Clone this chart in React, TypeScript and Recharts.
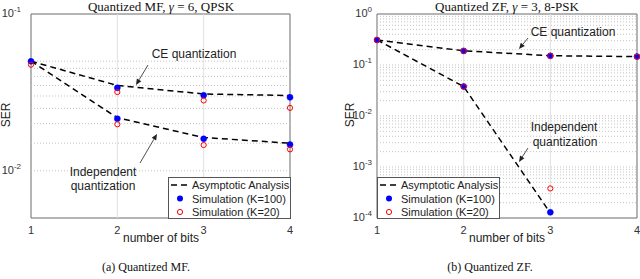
import { Line, LineChart, ReferenceArea, ReferenceLine, XAxis, YAxis } from "recharts";

const bits = [1, 2, 3, 4];

// left panel: quantized MF, gamma = 6, QPSK
const mfCeAnalysis = [0.05, 0.035, 0.0309, 0.0302];
const mfIndAnalysis = [0.05, 0.0218, 0.0163, 0.015];
const mfCeK100 = [0.0499, 0.0338, 0.0303, 0.0294];
const mfCeK20 = [0.0475, 0.0318, 0.0281, 0.0252];
const mfIndK100 = [null, 0.0215, 0.016, 0.0147];
const mfIndK20 = [null, 0.0198, 0.0146, 0.0137];

// right panel: quantized ZF, gamma = 3, 8-PSK
const zfCeAnalysis = [0.31, 0.19, 0.152, 0.146];
const zfIndAnalysis = [0.31, 0.0378, 0.000125, null];
const zfCeK100 = [0.31, 0.189, 0.151, 0.146];
const zfCeK20 = [0.31, 0.189, 0.151, 0.146];
const zfIndK100 = [null, 0.0378, 0.000129, null];
const zfIndK20 = [null, 0.0378, 0.00038, null];

const mfDecades = [0.01, 0.1];
const zfDecades = [0.0001, 0.001, 0.01, 0.1, 1];
const innerBits = [2, 3];

const minorGrid = (lo: number, hi: number) => {
  const out: number[] = [];
  for (let d = lo; d < hi * 0.99; d *= 10) {
    for (let m = 1; m < 10; m++) {
      const v = Number((d * m).toPrecision(3));
      if (v > lo && v < hi) out.push(v);
    }
  }
  return out;
};

type Row = { bits: number; [k: string]: number | null };

function buildRows(cols: Record<string, (number | null)[]>): Row[] {
  return bits.map((b, i) => {
    const row: Row = { bits: b };
    for (const k of Object.keys(cols)) row[k] = cols[k][i];
    return row;
  });
}

const mfRows = buildRows({
  ceA: mfCeAnalysis,
  indA: mfIndAnalysis,
  ce100: mfCeK100,
  ce20: mfCeK20,
  ind100: mfIndK100,
  ind20: mfIndK20,
});

const zfRows = buildRows({
  ceA: zfCeAnalysis,
  indA: zfIndAnalysis,
  ce100: zfCeK100,
  ce20: zfCeK20,
  ind100: zfIndK100,
  ind20: zfIndK20,
});

const SANS = "'Liberation Sans', Arial, sans-serif";
const SERIF = "'Liberation Serif', 'Times New Roman', serif";
const AXIS = "#6b6b6b";
const TEXT = "#333";

function PowerTick({ x, y, payload, gap }: any) {
  const exp = Math.round(Math.log10(payload.value));
  return (
    <text x={x - gap} y={y + 3} textAnchor="end" fill={TEXT} fontSize={11} fontFamily={SANS}>
      10
      <tspan dy={-5} fontSize={8}>
        {exp}
      </tspan>
    </text>
  );
}

function Panel({
  rows,
  domain,
  decades,
  left,
  right,
  gap,
}: {
  rows: Row[];
  domain: [number, number];
  decades: number[];
  left: number;
  right: number;
  gap: number;
}) {
  return (
    <LineChart
      width={320}
      height={279}
      data={rows}
      margin={{ top: 14, right, bottom: 41, left }}
      style={{ fontFamily: SANS }}
    >
      <XAxis
        dataKey="bits"
        type="number"
        domain={[1, 4]}
        ticks={bits}
        height={20}
        axisLine={false}
        tickLine={false}
        tick={{ fill: TEXT, fontSize: 11, fontFamily: SANS }}
        tickMargin={2}
      />
      <YAxis
        scale="log"
        domain={domain}
        allowDataOverflow
        ticks={decades}
        width={30}
        axisLine={false}
        tickLine={false}
        tick={<PowerTick gap={gap} />}
      />
      {minorGrid(domain[0], domain[1]).map((v) => (
        <ReferenceLine key={`h${v}`} y={v} stroke="#c4c4c4" strokeDasharray="1 2" strokeWidth={1} />
      ))}
      {innerBits.map((b) => (
        <ReferenceLine key={`v${b}`} x={b} stroke="#e0e0e0" strokeWidth={1} />
      ))}
      <ReferenceArea
        x1={1}
        x2={4}
        y1={domain[0]}
        y2={domain[1]}
        fill="none"
        stroke={AXIS}
        strokeWidth={1}
        ifOverflow="extendDomain"
      />
      <Line dataKey="ceA" stroke="#000" strokeWidth={1.5} strokeDasharray="6 4" dot={false} activeDot={false} isAnimationActive={false} />
      <Line dataKey="indA" stroke="#000" strokeWidth={1.5} strokeDasharray="6 4" dot={false} activeDot={false} isAnimationActive={false} />
      <Line dataKey="ce100" stroke="none" dot={{ r: 3, fill: "#0000ff", stroke: "#0000ff", strokeWidth: 0.5 }} activeDot={false} isAnimationActive={false} />
      <Line dataKey="ind100" stroke="none" dot={{ r: 3, fill: "#0000ff", stroke: "#0000ff", strokeWidth: 0.5 }} activeDot={false} isAnimationActive={false} />
      <Line dataKey="ce20" stroke="none" dot={{ r: 2.6, fill: "none", stroke: "#ff0000", strokeWidth: 1 }} activeDot={false} isAnimationActive={false} />
      <Line dataKey="ind20" stroke="none" dot={{ r: 2.6, fill: "none", stroke: "#ff0000", strokeWidth: 1 }} activeDot={false} isAnimationActive={false} />
    </LineChart>
  );
}

function Arrow({ x1, y1, x2, y2 }: { x1: number; y1: number; x2: number; y2: number }) {
  const a = Math.atan2(y2 - y1, x2 - x1);
  const len = 6;
  const w = 2.6;
  const bx = x2 - len * Math.cos(a);
  const by = y2 - len * Math.sin(a);
  const px = -Math.sin(a) * w;
  const py = Math.cos(a) * w;
  return (
    <g>
      <line x1={x1} y1={y1} x2={bx} y2={by} stroke="#222" strokeWidth={0.8} />
      <polygon points={`${x2},${y2} ${bx + px},${by + py} ${bx - px},${by - py}`} fill="#222" />
    </g>
  );
}

function LegendBox({ x, y }: { x: number; y: number }) {
  const rows = ["Asymptotic Analysis", "Simulation (K=100)", "Simulation (K=20)"];
  return (
    <g>
      <rect x={x + 0.5} y={y + 0.5} width={122} height={41} fill="#fff" stroke="#555" strokeWidth={1} />
      <line x1={x + 3} y1={y + 8} x2={x + 21} y2={y + 8} stroke="#000" strokeWidth={1.5} strokeDasharray="6 4" />
      <circle cx={x + 12} cy={y + 21.5} r={3} fill="#0000ff" />
      <circle cx={x + 12} cy={y + 35} r={2.6} fill="none" stroke="#ff0000" strokeWidth={1} />
      {rows.map((r, i) => (
        <text
          key={r}
          x={x + 24}
          y={y + 8 + i * 13.5}
          dominantBaseline="central"
          fontSize={11}
          fill="#222"
          fontFamily={SANS}
        >
          {r}
        </text>
      ))}
    </g>
  );
}

function Overlay() {
  const label = { fontSize: 12, fill: "#222", fontFamily: SANS, textAnchor: "middle" as const, dominantBaseline: "central" as const };
  return (
    <svg width={640} height={279} style={{ position: "absolute", left: 0, top: 0, pointerEvents: "none" }}>
      <text x={161} y={6} textAnchor="middle" dominantBaseline="central" fontSize={13} fontFamily={SERIF} fill="#111">
        Quantized MF, <tspan fontStyle="italic">γ</tspan> = 6, QPSK
      </text>
      <text x={507} y={6} textAnchor="middle" dominantBaseline="central" fontSize={13} fontFamily={SERIF} fill="#111">
        Quantized ZF, <tspan fontStyle="italic">γ</tspan> = 3, 8-PSK
      </text>

      <text {...label} x={161} y={238}>number of bits</text>
      <text {...label} x={507} y={238}>number of bits</text>
      <text {...label} x={6} y={115} transform="rotate(-90 6 115)">SER</text>
      <text {...label} x={350} y={115} transform="rotate(-90 350 115)">SER</text>

      <text {...label} x={194} y={54}>CE quantization</text>
      <Arrow x1={148} y1={65} x2={136} y2={85} />
      <text {...label} x={103} y={172}>Independent</text>
      <text {...label} x={103} y={186}>quantization</text>
      <Arrow x1={140} y1={163} x2={157} y2={134} />

      <text {...label} x={573} y={32}>CE quantization</text>
      <Arrow x1={528} y1={38} x2={519} y2={49} />
      <text {...label} x={564} y={127}>Independent</text>
      <text {...label} x={565} y={142}>quantization</text>
      <Arrow x1={528} y1={148} x2={519} y2={162} />

      <LegendBox x={168} y={177} />
      <LegendBox x={377} y={177} />

      <text x={146} y={267} textAnchor="middle" dominantBaseline="central" fontSize={12} fontFamily={SERIF} fill="#111">
        (a) Quantized MF.
      </text>
      <text x={490} y={267} textAnchor="middle" dominantBaseline="central" fontSize={12} fontFamily={SERIF} fill="#111">
        (b) Quantized ZF.
      </text>
    </svg>
  );
}

export default function App() {
  return (
    <div style={{ position: "absolute", left: 0, top: 0, width: 640, height: 279, background: "#fff", overflow: "hidden" }}>
      <div style={{ position: "absolute", left: 0, top: 0 }}>
        <Panel rows={mfRows} domain={[0.005, 0.1]} decades={mfDecades} left={1} right={30} gap={2} />
      </div>
      <div style={{ position: "absolute", left: 320, top: 0 }}>
        <Panel rows={zfRows} domain={[0.0001, 1]} decades={zfDecades} left={27} right={3} gap={-3} />
      </div>
      <Overlay />
    </div>
  );
}
